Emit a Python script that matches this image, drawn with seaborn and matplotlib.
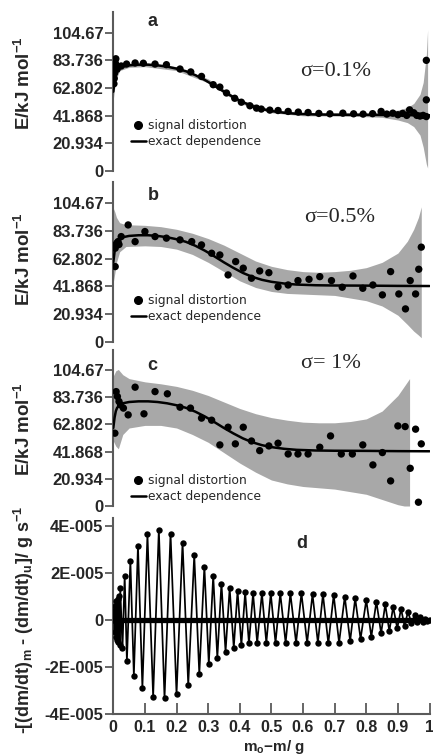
import numpy as np
import pandas as pd
import matplotlib
matplotlib.use('Agg')
import matplotlib.pyplot as plt
import seaborn as sns
from matplotlib.lines import Line2D

# ---------------- data ----------------
e_ticks = [0, 20.934, 41.868, 62.802, 83.736, 104.67]
e_ticklabels = ["0", "20.934", "41.868", "62.802", "83.736", "104.67"]

# exact dependence (same in a, b, c)
x_exact = [0, 0.004, 0.008, 0.012, 0.02, 0.03, 0.05, 0.08, 0.11, 0.14, 0.17, 0.2, 0.23,
           0.26, 0.29, 0.32, 0.35, 0.38, 0.41, 0.44, 0.47, 0.5, 0.54, 0.58, 0.64, 0.7,
           0.8, 0.9, 1.0]
e_exact = [60, 68, 73, 75.5, 77.8, 79, 80, 80.5, 80.5, 80, 79, 77.5, 75.5,
           72.5, 68.8, 64.5, 60, 55.8, 52, 49, 46.8, 45.3, 44, 43.2, 42.7, 42.5,
           42.4, 42.2, 42.1]

# panel a (sigma = 0.1 %)
xa = [0.002, 0.003, 0.004, 0.005, 0.006, 0.008, 0.010, 0.012, 0.025, 0.042, 0.069, 0.095,
      0.132, 0.168, 0.211, 0.245, 0.279, 0.316, 0.337, 0.358, 0.384, 0.405, 0.432, 0.453,
      0.468, 0.495, 0.521, 0.553, 0.585, 0.616, 0.65, 0.685, 0.726, 0.76, 0.79, 0.82,
      0.847, 0.865, 0.884, 0.9, 0.915, 0.928, 0.937, 0.95, 0.96, 0.97, 0.98, 0.99, 0.99, 0.99]
ea = [66, 70, 74, 78, 82, 85, 80, 77, 79.5, 81, 81.8, 81.6,
      81, 80.5, 77.2, 75, 71.6, 65.3, 63.5, 59, 55, 52, 49.3, 47.5,
      46.8, 46, 45.7, 45, 44.5, 44.2, 43.5, 43.2, 43.7, 43.2, 43, 43.3,
      45, 43, 43.7, 42.5, 43.5, 42, 46.2, 44, 42, 41.5, 42, 53.8, 83.8, 41.1]
xa_band = [0.0, 0.005, 0.01, 0.02, 0.05, 0.1, 0.2, 0.3, 0.4, 0.5, 0.6, 0.7, 0.8, 0.85,
           0.9, 0.93, 0.95, 0.97, 0.98, 0.99, 0.994]
ua_band = [66, 72, 76, 79.5, 81.5, 82, 79, 69.7, 54, 46.5, 44.3, 44, 44, 44.5,
           46, 48, 51, 58, 67, 88, 107]
la_band = [54, 64, 70, 76, 78.5, 79, 76, 66.7, 51, 44, 41.7, 41.5, 41, 40.5,
           38.5, 36.5, 33.5, 27, 18, 5, 2]

# panel b (sigma = 0.5 %)
xb = [0.006, 0.006, 0.008, 0.011, 0.015, 0.018, 0.025, 0.047, 0.069, 0.1, 0.132, 0.168,
      0.211, 0.248, 0.279, 0.311, 0.337, 0.363, 0.387, 0.411, 0.437, 0.463, 0.492, 0.521,
      0.553, 0.584, 0.619, 0.653, 0.69, 0.724, 0.758, 0.789, 0.821, 0.851, 0.877, 0.903,
      0.924, 0.939, 0.956, 0.966, 0.974]
eb = [56.8, 70.7, 73.2, 74.5, 75.7, 73.5, 79.5, 88.3, 75.7, 83.3, 79.5, 78.3,
      77, 75.7, 73.2, 66.9, 65.6, 50.5, 60.6, 55.6, 48, 53.5, 52.2, 41.6,
      42.9, 46.2, 47.2, 49.2, 46.2, 41.2, 49.7, 40.4, 42.9, 35.4, 53, 36.1,
      24.8, 46.2, 36.1, 54.8, 71.5]
xb_band = [0.0, 0.005, 0.01, 0.02, 0.04, 0.1, 0.15, 0.2, 0.25, 0.3, 0.35, 0.4, 0.45, 0.5,
           0.55, 0.6, 0.65, 0.7, 0.75, 0.8, 0.85, 0.9, 0.93, 0.95, 0.965, 0.974]
ub_band = [101, 98, 94, 90, 88.5, 88, 87, 85, 82, 78, 73, 67, 61, 57,
           54.5, 53, 52.5, 53, 54, 56, 60, 67, 76, 85, 94, 102]
lb_band = [45, 52, 60, 68, 72, 72.5, 72, 70, 66, 60, 53, 46, 41, 38,
           36.5, 36, 35.5, 35, 33, 31, 27, 20, 13, 8, 5, 3]

# panel c (sigma = 1 %)
xc = [0.005, 0.009, 0.013, 0.018, 0.023, 0.032, 0.047, 0.069, 0.097, 0.132, 0.171, 0.211,
      0.244, 0.279, 0.311, 0.337, 0.363, 0.386, 0.411, 0.437, 0.463, 0.492, 0.521, 0.553,
      0.584, 0.616, 0.653, 0.687, 0.721, 0.756, 0.789, 0.821, 0.851, 0.877, 0.9, 0.923,
      0.939, 0.956, 0.965, 0.974]
ec = [56, 88, 84.2, 80.4, 77.8, 75.3, 70.1, 91.4, 70.9, 88, 86.3, 76,
      75.3, 67.6, 66, 47, 60.6, 47.8, 60.6, 50, 42.6, 46.2, 48.3, 40,
      40, 40, 45.2, 53.9, 40, 40, 47, 31.6, 41.1, 19.3, 61.6, 61.1,
      29, 59.1, 2.9, 47.8]
xc_band = [0.0, 0.008, 0.016, 0.03, 0.05, 0.1, 0.15, 0.2, 0.25, 0.3, 0.35, 0.4, 0.45, 0.5,
           0.55, 0.6, 0.65, 0.7, 0.75, 0.8, 0.85, 0.9, 0.92, 0.937]
uc_band = [100, 104, 105, 101, 98, 95.5, 94, 92, 89, 85, 80, 75, 71, 68,
           66, 64.5, 64, 64, 65, 67, 73, 85, 92, 98]
lc_band = [50, 46, 44, 55, 60, 62, 62, 60, 55, 49, 41, 33, 26, 20,
           17, 15, 14, 13, 11, 9, 5, 1, 0, 0]

# panel d: difference signal (peaks, alternating sign)
xd = [0.0, 0.002, 0.004, 0.006, 0.008, 0.010, 0.012, 0.014, 0.016, 0.018, 0.020,
      0.022, 0.029, 0.036, 0.043, 0.054, 0.065, 0.078, 0.092, 0.108, 0.126, 0.144, 0.162,
      0.181, 0.200, 0.219, 0.237, 0.256, 0.272, 0.288, 0.302, 0.316, 0.329, 0.342, 0.355,
      0.368, 0.381, 0.393, 0.405, 0.417, 0.429, 0.442, 0.455, 0.470, 0.484, 0.498, 0.513,
      0.528, 0.545, 0.560, 0.578, 0.595, 0.613, 0.630, 0.647, 0.663, 0.680, 0.697, 0.714,
      0.732, 0.749, 0.765, 0.782, 0.800, 0.816, 0.832, 0.847, 0.860, 0.873, 0.885, 0.898,
      0.910, 0.921, 0.932, 0.943, 0.953, 0.962, 0.970, 0.978, 0.986, 0.993, 1.0]
yd = [0.0, 0.4e-5, -0.5e-5, 0.6e-5, -0.7e-5, 0.8e-5, -0.85e-5, 0.9e-5, -0.95e-5, 1.0e-5, -1.05e-5,
      1.34e-5, -1.2e-5, 1.88e-5, -1.74e-5, 2.51e-5, -2.36e-5, 3.15e-5, -2.87e-5, 3.63e-5, -3.25e-5, 3.84e-5, -3.32e-5,
      3.67e-5, -3.15e-5, 3.29e-5, -2.75e-5, 2.75e-5, -2.3e-5, 2.27e-5, -1.86e-5, 1.88e-5, -1.6e-5, 1.55e-5, -1.34e-5,
      1.34e-5, -1.17e-5, 1.23e-5, -1.06e-5, 1.17e-5, -0.99e-5, 1.13e-5, -0.96e-5, 1.13e-5, -0.96e-5, 1.13e-5, -0.96e-5,
      1.13e-5, -0.96e-5, 1.13e-5, -0.96e-5, 1.13e-5, -0.96e-5, 1.09e-5, -0.96e-5, 1.09e-5, -0.99e-5, 1.06e-5, -0.96e-5,
      0.99e-5, -0.89e-5, 0.92e-5, -0.8e-5, 0.85e-5, -0.71e-5, 0.78e-5, -0.56e-5, 0.66e-5, -0.47e-5, 0.56e-5, -0.35e-5,
      0.47e-5, -0.24e-5, 0.35e-5, -0.14e-5, 0.21e-5, -0.07e-5, 0.12e-5, -0.08e-5, 0.05e-5, -0.03e-5, 0.0]
d_ticks = [-4e-5, -2e-5, 0, 2e-5, 4e-5]
d_ticklabels = ["-4E-005", "-2E-005", "0", "2E-005", "4E-005"]
x_ticks = [0, 0.1, 0.2, 0.3, 0.4, 0.5, 0.6, 0.7, 0.8, 0.9, 1.0]
x_ticklabels = ["0", "0.1", "0.2", "0.3", "0.4", "0.5", "0.6", "0.7", "0.8", "0.9", "1"]

# ---------------- style ----------------
sns.set_style('ticks')
plt.rcParams['font.family'] = ['Liberation Sans', 'DejaVu Sans']
plt.rcParams['font.weight'] = 'bold'
plt.rcParams['mathtext.fontset'] = 'custom'
plt.rcParams['mathtext.rm'] = 'Liberation Sans:bold'
plt.rcParams['mathtext.it'] = 'Liberation Sans:bold'
plt.rcParams['mathtext.bf'] = 'Liberation Sans:bold'
plt.rcParams['mathtext.default'] = 'rm'

W, H = 433, 755
fig = plt.figure(figsize=(W / 100, H / 100), dpi=100)

SPINE = '#5a5a5a'
BAND = '#a8a8a8'
TICKFS = 12


def rect(top, bottom, left=113.3, right=429.5):
    return [left / W, 1 - bottom / H, (right - left) / W, (bottom - top) / H]


def fy(y):
    return 1 - y / H


def fx(x):
    return x / W


panels = [
    dict(top=12, bottom=170.7, ymax=120.5, x=xa, e=ea, xb=xa_band, ub=ua_band, lb=la_band,
         letter='a', lpos=(153, 22), sig='σ=0.1%', spos=(336, 71), leg=(131, 119), ylab=83),
    dict(top=181.7, bottom=341.7, ymax=121, x=xb, e=eb, xb=xb_band, ub=ub_band, lb=lb_band,
         letter='b', lpos=(153, 196), sig='σ=0.5%', spos=(340, 218), leg=(131, 294), ylab=259),
    dict(top=350, bottom=506, ymax=120, x=xc, e=ec, xb=xc_band, ub=uc_band, lb=lc_band,
         letter='c', lpos=(152, 365), sig='σ= 1%', spos=(331, 364), leg=(131, 474), ylab=429),
]

for p in panels:
    ax = fig.add_axes(rect(p['top'], p['bottom']))
    ax.fill_between(p['xb'], p['lb'], p['ub'], color=BAND, lw=0, zorder=1)
    sns.lineplot(x=x_exact, y=e_exact, ax=ax, color='black', lw=1.8, zorder=3,
                 estimator=None, sort=False)
    sns.scatterplot(x=p['x'], y=p['e'], ax=ax, color='black', s=28, edgecolor='none',
                    linewidth=0, zorder=4)
    ax.set_xlim(0, 1)
    ax.set_ylim(0, p['ymax'])
    ax.set_xticks([])
    ax.set_yticks(e_ticks)
    ax.set_yticklabels(e_ticklabels, fontsize=TICKFS, fontweight='bold')
    for s in ['top', 'right', 'bottom']:
        ax.spines[s].set_visible(False)
    ax.spines['left'].set_color(SPINE)
    ax.spines['left'].set_linewidth(1.5)
    ax.tick_params(axis='y', direction='out', length=6, width=1.3, color=SPINE, pad=1)
    ax.set_xlabel('')
    ax.set_ylabel('')
    ax.patch.set_alpha(0)
    handles = [Line2D([], [], ls='none', marker='o', color='black', markersize=5.5),
               Line2D([], [], color='black', lw=1.8)]
    ax.legend(handles, ['signal distortion', 'exact dependence'],
              loc='upper left', bbox_to_anchor=(fx(p['leg'][0]), fy(p['leg'][1])),
              bbox_transform=fig.transFigure, frameon=False, borderpad=0, borderaxespad=0,
              handlelength=1.2, handletextpad=0.2, labelspacing=0.25,
              prop={'family': 'DejaVu Sans', 'size': 8.8, 'weight': 'normal'})
    fig.text(fx(p['lpos'][0]), fy(p['lpos'][1]), p['letter'], ha='center', va='center',
             fontsize=13, fontweight='bold')
    fig.text(fx(p['spos'][0]), fy(p['spos'][1]), p['sig'], ha='center', va='center',
             fontsize=16, family='Liberation Serif', fontweight='normal')
    fig.text(fx(24), fy(p['ylab']), 'E/kJ mol$^{-1}$', rotation=90, ha='center',
             va='center', fontsize=13.5, fontweight='bold')

# panel d
axd = fig.add_axes(rect(518, 714.3))
sns.lineplot(x=[0, 1], y=[0, 0], ax=axd, color='black', lw=3.8, zorder=2)
sns.lineplot(x=xd, y=yd, ax=axd, color='black', lw=1.25, estimator=None, sort=False,
             marker='o', markersize=4.6, markeredgewidth=0, zorder=3)
axd.set_xlim(0, 1)
axd.set_ylim(-4e-5, 4.33e-5)
axd.set_yticks(d_ticks)
axd.set_yticklabels(d_ticklabels, fontsize=TICKFS, fontweight='bold')
axd.set_xticks(x_ticks)
axd.set_xticklabels(x_ticklabels, fontsize=11.5, fontweight='bold')
for s in ['top', 'right']:
    axd.spines[s].set_visible(False)
for s in ['left', 'bottom']:
    axd.spines[s].set_color(SPINE)
    axd.spines[s].set_linewidth(1.5)
axd.tick_params(axis='y', direction='out', length=6, width=1.3, color=SPINE, pad=1)
axd.tick_params(axis='x', direction='in', length=8, width=1.3, color=SPINE, pad=4)
axd.set_xlabel('')
axd.set_ylabel('')
axd.patch.set_alpha(0)
fig.text(fx(302), fy(544), 'd', ha='center', va='center', fontsize=13, fontweight='bold')
fig.text(fx(24), fy(620), '-[(dm/dt)$_\\mathrm{m}$ - (dm/dt)$_\\mathrm{u}$]/ g s$^{-1}$',
         rotation=90, ha='center', va='center', fontsize=13, fontweight='bold')
fig.text(fx(274), fy(747), 'm$_\\mathrm{o}$\u2212m/ g', ha='center', va='center',
         fontsize=11, fontweight='bold')

fig.savefig('out.png', dpi=100)
